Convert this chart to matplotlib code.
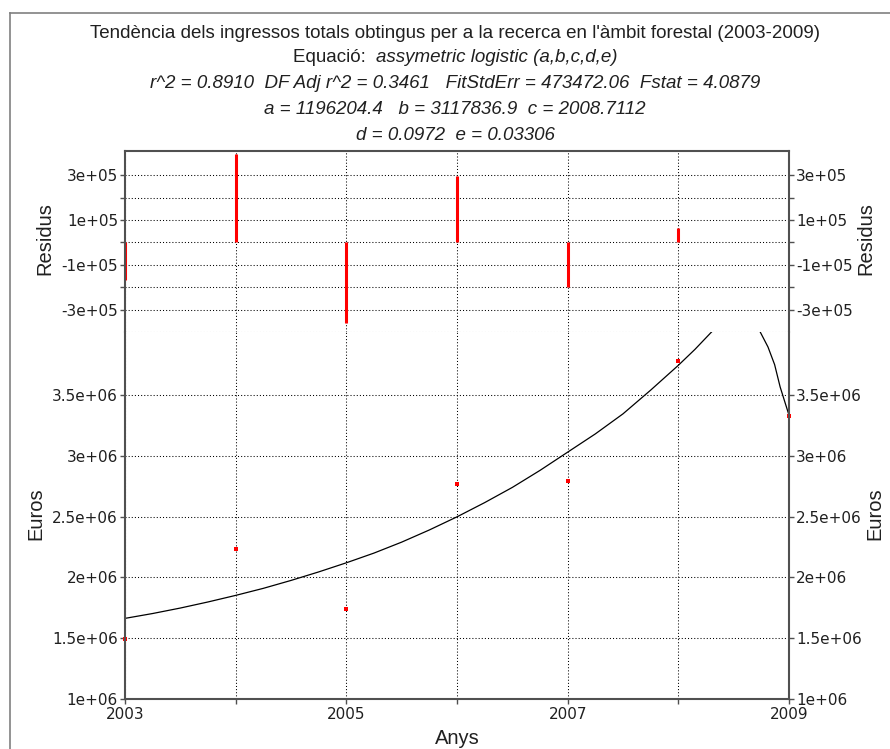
import matplotlib
matplotlib.use('Agg')
import matplotlib.pyplot as plt
from matplotlib.lines import Line2D

# ---- data ----
years = [2003, 2004, 2005, 2006, 2007, 2008, 2009]
euros = [1.49e6, 2.235e6, 1.74e6, 2.772e6, 2.789e6, 3.777e6, 3.328e6]
residuals = [-1.69e5, 3.93e5, -3.59e5, 2.98e5, -1.99e5, 0.65e5, 0.0]

fit_x = [2003.0, 2003.25, 2003.5, 2003.75, 2004.0, 2004.25, 2004.5, 2004.75,
         2005.0, 2005.25, 2005.5, 2005.75, 2006.0, 2006.25, 2006.5, 2006.75,
         2007.0, 2007.25, 2007.5, 2007.75, 2008.0, 2008.15, 2008.30, 2008.42,
         2008.55, 2008.66, 2008.74, 2008.81, 2008.87, 2008.92, 2008.96, 2009.0]
fit_y = [1.663e6, 1.703e6, 1.748e6, 1.798e6, 1.852e6, 1.91e6, 1.975e6, 2.045e6,
         2.12e6, 2.20e6, 2.29e6, 2.39e6, 2.498e6, 2.615e6, 2.74e6, 2.88e6,
         3.03e6, 3.18e6, 3.345e6, 3.54e6, 3.744e6, 3.875e6, 4.018e6, 4.12e6,
         4.16e6, 4.11e6, 4.018e6, 3.895e6, 3.75e6, 3.566e6, 3.45e6, 3.334e6]

x_ticks = [2003, 2004, 2005, 2006, 2007, 2008, 2009]
x_labels = ['2003', '', '2005', '', '2007', '', '2009']
res_ticks = [-3e5, -2e5, -1e5, 0, 1e5, 2e5, 3e5]
res_labels = ['-3e+05', '', '-1e+05', '', '1e+05', '', '3e+05']
main_ticks = [1e6, 1.5e6, 2e6, 2.5e6, 3e6, 3.5e6]
main_labels = ['1e+06', '1.5e+06', '2e+06', '2.5e+06', '3e+06', '3.5e+06']

title_lines = [
    "Tendència dels ingressos totals obtingus per a la recerca en l'àmbit forestal (2003-2009)",
    "r^2 = 0.8910  DF Adj r^2 = 0.3461   FitStdErr = 473472.06  Fstat = 4.0879",
    "a = 1196204.4   b = 3117836.9  c = 2008.7112",
    "d = 0.0972  e = 0.03306",
]
eq_label = "Equació:  "
eq_name = "assymetric logistic (a,b,c,d,e)"

plt.rcParams['axes.unicode_minus'] = False

W, H = 890, 749
fig = plt.figure(figsize=(W / 100, H / 100), dpi=100)
fig.patch.set_facecolor('white')


def fx(px):
    return px / W


def fy(py):
    return 1 - py / H


L, R = 125, 789
TOP_R, MID, BOT = 151, 332, 699
ax_r = fig.add_axes([fx(L), fy(MID), fx(R) - fx(L), fy(TOP_R) - fy(MID)])
ax_m = fig.add_axes([fx(L), fy(BOT), fx(R) - fx(L), fy(MID) - fy(BOT)])

spine_col = '#505050'
tick_font = dict(family='DejaVu Sans', size=11)
grid_kw = dict(color='black', lw=0.75, ls=(0, (1, 2)))

for ax in (ax_r, ax_m):
    ax.set_xlim(2003, 2009)
    ax.set_xticks(x_ticks)
    for s in ax.spines.values():
        s.set_color(spine_col)
        s.set_linewidth(1.5)
    ax.tick_params(axis='y', which='both', direction='out', length=3.5,
                   width=1, color=spine_col, left=True, right=True,
                   labelleft=True, labelright=True, pad=1.5)
    ax.grid(True, **grid_kw)
    ax.set_axisbelow(True)

# residual panel
ax_r.spines['bottom'].set_visible(False)
ax_r.set_ylim(-4e5, 4.08e5)
ax_r.set_yticks(res_ticks)
ax_r.set_yticklabels(res_labels)
ax_r.tick_params(axis='x', bottom=False, labelbottom=False)
ax_r.axhline(-4e5, clip_on=False, **grid_kw)
ax_r.vlines(years, 0, residuals, color='#ff0000', lw=2.2)

# main panel
ax_m.spines['top'].set_visible(False)
ax_m.set_ylim(1e6, 4.018e6)
ax_m.set_yticks(main_ticks)
ax_m.set_yticklabels(main_labels)
ax_m.set_xticklabels(x_labels)
ax_m.tick_params(axis='x', direction='out', length=3.5, width=1,
                 color=spine_col, pad=2.5)
ax_m.plot(fit_x, fit_y, color='black', lw=0.9)
ax_m.plot(years, euros, 's', color='#ff0000', ms=2.4, mew=0, clip_on=False)

for ax in (ax_r, ax_m):
    for lab in ax.get_xticklabels() + ax.get_yticklabels():
        lab.set_fontfamily(tick_font['family'])
        lab.set_fontsize(tick_font['size'])
        lab.set_color('#202020')

# axis labels
lab_font = dict(family='Liberation Sans', size=14.5, color='#202020')
fig.text(fx(45), fy(239), 'Residus', rotation=90, ha='center', va='center', **lab_font)
fig.text(fx(866), fy(239), 'Residus', rotation=90, ha='center', va='center', **lab_font)
fig.text(fx(36), fy(514), 'Euros', rotation=90, ha='center', va='center', **lab_font)
fig.text(fx(875), fy(514), 'Euros', rotation=90, ha='center', va='center', **lab_font)
fig.text(fx(457), fy(738), 'Anys', ha='center', va='center', **lab_font)

# title block
cx = fx(455)
tfont = dict(family='Liberation Sans', size=13.5, color='#202020')
fig.text(cx, fy(33), title_lines[0], ha='center', va='center', **tfont)
fig.text(cx, fy(84), title_lines[1], ha='center', va='center', style='italic', **tfont)
fig.text(cx, fy(109), title_lines[2], ha='center', va='center', style='italic', **tfont)
fig.text(cx, fy(135), title_lines[3], ha='center', va='center', style='italic', **tfont)

t1 = fig.text(cx, fy(58), eq_label, ha='left', va='center', **tfont)
t2 = fig.text(cx, fy(58), eq_name, ha='left', va='center', style='italic', **tfont)
renderer = fig.canvas.get_renderer()
w1 = t1.get_window_extent(renderer).width
w2 = t2.get_window_extent(renderer).width
start = 455 - (w1 + w2) / 2
t1.set_x(fx(start))
t2.set_x(fx(start + w1))

# outer frame (top and left edges visible)
frame_kw = dict(color='#808080', lw=1.2, transform=fig.transFigure)
fig.add_artist(Line2D([fx(9.5), 1.0], [fy(12.7), fy(12.7)], **frame_kw))
fig.add_artist(Line2D([fx(9.5), fx(9.5)], [fy(12.7), 0.0], **frame_kw))

fig.savefig('out.png', dpi=100)
